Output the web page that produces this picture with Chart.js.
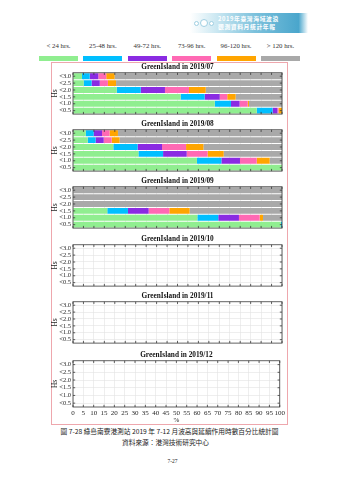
<!DOCTYPE html>
<html>
<head>
<meta charset="utf-8">
<script src="https://cdn.jsdelivr.net/npm/chart.js@4.4.1/dist/chart.umd.min.js"></script>
<style>
body { margin: 0; background: #fff; width: 339px; height: 480px; position: relative; overflow: hidden; font-family: "Liberation Serif", serif; color: #222; }
.banner { position: absolute; left: 190px; top: 13px; width: 118px; height: 20px;
  background: linear-gradient(to right, rgba(255,255,255,0) 0%, #cce8f2 22%, #7cc1dc 55%, #4aa6cc 92%, rgba(255,255,255,0) 100%); }
.banner .txt { position: absolute; left: 28px; top: 2px; font-family: "Noto Sans CJK TC", sans-serif; font-weight: bold; font-size: 5.8px; line-height: 7.5px; color: #fff; letter-spacing: 0.6px; }
.dot { position: absolute; border-radius: 50%; border: 1px solid #9fcfe2; background: #fff; }
.legend-label { position: absolute; top: 42px; width: 44px; text-align: center; font-size: 6.8px; color: #333; }
.legend-swatch { position: absolute; top: 56px; width: 39px; height: 5px; }
.frame { position: absolute; left: 51px; top: 62px; width: 235px; height: 361px; border: 1px solid #eea7ad; }
.panel { position: absolute; left: 51px; width: 236px; }
.caption { position: absolute; left: 0; width: 339px; text-align: center; font-family: "Noto Sans CJK TC", sans-serif; color: #222; }
</style>
</head>
<body>
<div class="banner">
  <div class="dot" style="left:4px;top:8px;width:3px;height:3px"></div>
  <div class="dot" style="left:10px;top:6px;width:6px;height:6px"></div>
  <div class="dot" style="left:19px;top:8px;width:3px;height:3px"></div>
  <div class="txt">2019年臺灣海域波浪<br>觀測資料月統計年報</div>
</div>
<div id="legend"></div>
<div class="frame"></div>
<div id="panels"></div>
<div class="caption" style="top:426px;font-size:6.7px;">圖 7-28 綠島南寮港測站 2019 年 7-12 月波高與延續作用時數百分比統計圖</div>
<div class="caption" style="top:437px;font-size:6.7px;left:-4px;">資料來源：港灣技術研究中心</div>
<div class="caption" style="top:458px;font-size:5.5px;font-family:'Liberation Serif',serif;left:3px;">7-27</div>

<script>
const seriesNames = ['< 24 hrs.', '25-48 hrs.', '49-72 hrs.', '73-96 hrs.', '96-120 hrs.', '> 120 hrs.'];
const seriesColors = ['#90EE90', '#00BFFF', '#8A2BE2', '#FF69B4', '#FFA500', '#A9A9A9'];
const hsLabels = ['<3.0', '<2.5', '<2.0', '<1.5', '<1.0', '<0.5'];
const months = ['2019/07', '2019/08', '2019/09', '2019/10', '2019/11', '2019/12'];

// percent of time per Hs row, one row of values per duration class (order of seriesNames)
const jul = [
    [4.3, 5.1, 20.9, 51.5, 67.8, 87.9],
    [3.7, 3.8, 11.5, 11.5, 7.8, 7.6],
    [4.1, 3.9, 11.6, 7.2, 4.1, 2.3],
    [3.8, 3.9, 11.5, 3.6, 3.9, 0.5],
    [4.0, 3.9, 8.0, 4.0, 0.6, 1.7],
    [80.1, 79.4, 36.5, 22.2, 15.8, 0]
];
const aug = [
    [6.1, 7.0, 19.3, 31.3, 59.3, 100],
    [3.8, 3.8, 11.6, 11.8, 11.7, 0],
    [4.0, 3.9, 11.7, 11.3, 8.9, 0],
    [3.6, 3.8, 11.5, 10.0, 8.0, 0],
    [4.0, 3.8, 8.3, 7.7, 6.2, 0],
    [78.5, 77.7, 37.6, 27.9, 5.9, 0]
];
const sep = [
    [0, 0, 0, 16.4, 59.5, 99.4],
    [0, 0, 0, 9.9, 10.0, 0.6],
    [0, 0, 0, 9.9, 9.9, 0],
    [0, 0, 0, 9.9, 9.9, 0],
    [0, 0, 0, 9.7, 1.6, 0],
    [100, 100, 100, 44.2, 9.1, 0]
];
const oct = [];
const nov = [];
const dec = [];
const monthData = [jul, aug, sep, oct, nov, dec];

// legend above the frame
const legend = document.getElementById('legend');
seriesNames.forEach((name, i) => {
    const left = 39 + i * 44.4;
    const lab = document.createElement('div');
    lab.className = 'legend-label';
    lab.style.left = (left - 2.5) + 'px';
    lab.textContent = name;
    legend.appendChild(lab);
    const sw = document.createElement('div');
    sw.className = 'legend-swatch';
    sw.style.left = left + 'px';
    sw.style.background = seriesColors[i];
    legend.appendChild(sw);
});

// box + inward tick marks, matlab style
const framePlugin = {
    id: 'frame',
    afterDraw(chart) {
        const { ctx, chartArea: a, scales: { x, y } } = chart;
        ctx.save();
        ctx.strokeStyle = '#3a3a3a';
        ctx.lineWidth = 0.8;
        ctx.strokeRect(a.left, a.top, a.right - a.left, a.bottom - a.top);
        ctx.beginPath();
        x.ticks.forEach(t => {
            const px = x.getPixelForValue(t.value);
            ctx.moveTo(px, a.top); ctx.lineTo(px, a.top + 2.2);
            ctx.moveTo(px, a.bottom); ctx.lineTo(px, a.bottom - 2.2);
        });
        y.ticks.forEach((t, i) => {
            const py = y.getPixelForTick(i);
            ctx.moveTo(a.left, py); ctx.lineTo(a.left + 2.2, py);
            ctx.moveTo(a.right, py); ctx.lineTo(a.right - 2.2, py);
        });
        ctx.stroke();
        ctx.restore();
    }
};

const panelTitleY = [67, 124.3, 181.7, 239.2, 296.7, 355];
const panels = document.getElementById('panels');

months.forEach((month, m) => {
    const last = m === months.length - 1;
    const div = document.createElement('div');
    div.className = 'panel';
    div.style.top = (panelTitleY[m] - 4.4) + 'px';
    div.style.height = (last ? 73 : 57) + 'px';
    const canvas = document.createElement('canvas');
    div.appendChild(canvas);
    panels.appendChild(div);

    const rows = monthData[m];
    new Chart(canvas, {
        type: 'bar',
        data: {
            labels: hsLabels,
            datasets: rows.map((vals, i) => ({
                label: seriesNames[i],
                data: vals,
                backgroundColor: seriesColors[i],
                borderWidth: 0,
                barPercentage: 0.86,
                categoryPercentage: 1
            }))
        },
        options: {
            indexAxis: 'y',
            responsive: true,
            maintainAspectRatio: false,
            animation: false,
            layout: { padding: { left: 0, right: 5, top: 0, bottom: 0 } },
            plugins: {
                legend: { display: false },
                tooltip: { enabled: false },
                title: {
                    display: true,
                    text: 'GreenIsland in ' + month,
                    fullSize: false,
                    color: '#111',
                    font: { family: 'Liberation Serif', size: 7.3, weight: 'bold' },
                    padding: { top: 0, bottom: 1 }
                }
            },
            scales: {
                x: {
                    stacked: true,
                    min: 0,
                    max: 100,
                    grid: { color: '#e2e2e2', lineWidth: 0.6, drawTicks: false },
                    border: { display: false },
                    ticks: {
                        display: last,
                        stepSize: 5,
                        maxRotation: 0,
                        autoSkip: false,
                        padding: 2,
                        color: '#262626',
                        font: { family: 'Liberation Serif', size: 7 }
                    },
                    title: {
                        display: last,
                        text: '%',
                        color: '#262626',
                        padding: 0,
                        font: { family: 'Liberation Serif', size: 7 }
                    },
                    afterFit: s => { s.height = last ? 17 : 1; }
                },
                y: {
                    stacked: true,
                    grid: { color: '#e2e2e2', lineWidth: 0.6, drawTicks: false, offset: false },
                    border: { display: false },
                    ticks: {
                        autoSkip: false,
                        padding: 2,
                        color: '#262626',
                        font: { family: 'Liberation Serif', size: 6.5 }
                    },
                    title: {
                        display: true,
                        text: 'Hs',
                        color: '#262626',
                        padding: 0,
                        font: { family: 'Liberation Serif', size: 7.5 }
                    },
                    afterFit: s => { s.width = 22; }
                }
            }
        },
        plugins: [framePlugin]
    });
});
</script>
</body>
</html>
